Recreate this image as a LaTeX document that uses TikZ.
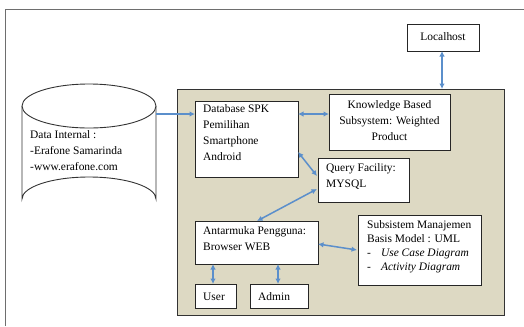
\documentclass[tikz,border=0pt]{standalone}
\usepackage{fontspec}
\setmainfont{Liberation Serif}
\usetikzlibrary{arrows.meta}
\definecolor{panelfill}{HTML}{DDD9C3}
\definecolor{arrowblue}{HTML}{5B8FCB}
\definecolor{framegray}{HTML}{6E6E6E}
\begin{document}
\begin{tikzpicture}[x=1bp,y=-1bp,
  every node/.style={font=\fontsize{11.5}{16}\selectfont, inner sep=0pt},
  box/.style={draw=black!85, fill=white, line width=1bp},
  link/.style={draw=arrowblue, line width=1.5bp, {Latex[length=5.5bp,width=5.5bp]}-{Latex[length=5.5bp,width=5.5bp]}},
  onelink/.style={draw=arrowblue, line width=1.3bp, -{Latex[length=5.5bp,width=5.5bp]}}]
\useasboundingbox (0,0) rectangle (524,326);
% outer frame
\draw[framegray, line width=1bp] (5.5,326) -- (5.5,9) -- (524,9);
% panel
\path[draw=black!80, fill=panelfill, line width=1bp] (177,89) rectangle (504,315);
% cylinder
\draw[black!80, line width=0.9bp, fill=white] (22,106) -- (22,199) arc[start angle=180,end angle=360,x radius=67,y radius=22] -- (156,106);
\draw[black!80, line width=0.9bp, fill=white] (89,106) ellipse[x radius=67,y radius=22];
\coordinate (cyl) at (156,114);
\node[anchor=north west, align=left] (data) at (30,130) {Data Internal :\\-Erafone Samarinda\\-www.erafone.com};
% boxes
\path[box] (195,101) rectangle (298,177);
\node[anchor=north west, align=left, font=\fontsize{11.5}{16.3}\selectfont] (dbt) at (203,104) {Database SPK\\Pemilihan\\Smartphone\\Android};
\coordinate (dbW) at (195,114);
\coordinate (dbE) at (298,114);
\coordinate (dbSE) at (298,152);

\path[box] (329,94) rectangle (450,150);
\node[align=center] (kb) at (389.5,121) {Knowledge Based\\Subsystem: Weighted\\Product};
\coordinate (kbW) at (329,114);

\path[box] (318,158) rectangle (409,202);
\node[anchor=north west, align=left] (qf) at (326,163) {Query Facility:\\MYSQL};
\coordinate (qfW) at (317,176);
\coordinate (qfW2) at (317,189);

\path[box] (195,221) rectangle (318,264);
\node[anchor=north west, align=left] (am) at (203,226) {Antarmuka Pengguna:\\Browser WEB};
\coordinate (amN) at (257,221);
\coordinate (amE) at (318,244);
\coordinate (amS1) at (213,264);
\coordinate (amS2) at (278,264);

\path[box] (358,215) rectangle (481,285);
\node[anchor=north west, align=left, font=\fontsize{11.5}{14}\selectfont] (sm) at (367,220) {Subsistem Manajemen\\Basis Model : UML\\-\hspace{10bp}\textit{Use Case Diagram}\\-\hspace{10bp}\textit{Activity Diagram}};
\coordinate (smW) at (357,250);

\path[box] (195,284) rectangle (236,308);
\node[anchor=west] (user) at (203,296.5) {User};
\coordinate (userN) at (213,284);
\path[box] (250,284) rectangle (308,308);
\node[anchor=west] (admin) at (258,296.5) {Admin};
\coordinate (adminN) at (278,284);

\path[box] (407,24) rectangle (479,51);
\node (lh) at (443,37) {Localhost};
\coordinate (lhS) at (442,51);
\coordinate (panelN) at (442,89);

% connectors
\draw[onelink] (cyl) -- (dbW);
\draw[link] (dbE) -- (kbW);
\draw[link] (dbSE) -- (qfW);
\draw[link] (qfW2) -- (amN);
\draw[link] (amE) -- (smW);
\draw[link] (amS1) -- (userN);
\draw[link] (amS2) -- (adminN);
\draw[link] (lhS) -- (panelN);
\end{tikzpicture}
\end{document}
